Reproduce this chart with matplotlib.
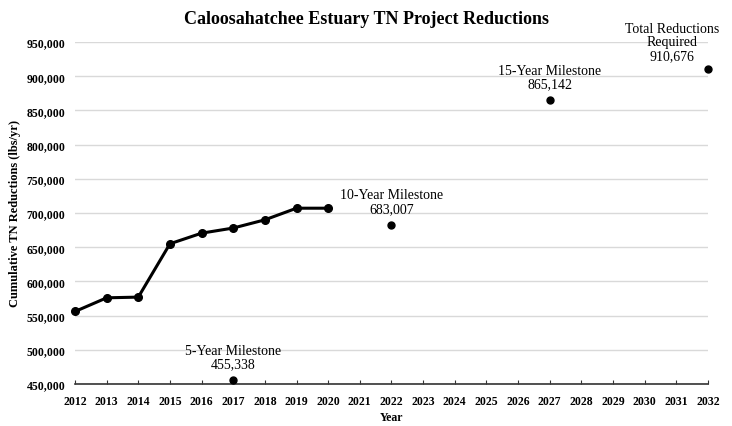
import numpy as np
import matplotlib.pyplot as plt
from matplotlib.ticker import FuncFormatter

years = [2012, 2013, 2014, 2015, 2016, 2017, 2018, 2019, 2020]
reductions = [556000, 576000, 577000, 655000, 670500, 678000, 690000, 707000, 707000]

milestone_years = [2017, 2022, 2027, 2032]
milestone_values = [455338, 683007, 865142, 910676]
milestone_labels = ['5-Year Milestone\n455,338', '10-Year Milestone\n683,007',
                    '15-Year Milestone\n865,142', 'Total Reductions\nRequired\n910,676']


def main():
    plt.rcParams['font.family'] = ['Liberation Serif', 'DejaVu Serif']
    fig = plt.figure(figsize=(7.32, 4.27), dpi=100)
    ax = fig.add_axes([0.1025, 0.0984, 0.8645, 0.8009])

    ax.plot(years, reductions, color='black', linewidth=2.2, marker='o',
            markersize=5.5, clip_on=False, zorder=3)
    ax.plot(milestone_years, milestone_values, linestyle='none', color='black',
            marker='o', markersize=5, clip_on=False, zorder=3)

    offsets = [(0, 7), (0, 7), (0, 7), (-26, 5)]
    for x, y, lab, off in zip(milestone_years, milestone_values, milestone_labels, offsets):
        ax.annotate(lab, (x, y), xytext=off, textcoords='offset points',
                    ha='center', va='bottom', fontsize=10, linespacing=1.05,
                    annotation_clip=False)

    ax.set_xlim(2012, 2032)
    ax.set_ylim(450000, 950000)
    ax.set_xticks(range(2012, 2033))
    ax.set_yticks(range(450000, 950001, 50000))
    ax.yaxis.set_major_formatter(FuncFormatter(lambda v, p: f'{int(v):,}'))
    ax.grid(axis='y', color='#d9d9d9', linewidth=1)
    ax.set_axisbelow(True)
    for s in ['top', 'right', 'left']:
        ax.spines[s].set_visible(False)
    ax.spines['bottom'].set_color('#333333')
    ax.spines['bottom'].set_linewidth(1.2)
    ax.tick_params(axis='y', length=0, pad=7, labelsize=8.5)
    ax.tick_params(axis='x', direction='in', length=3, color='#333333',
                   pad=8, labelsize=8.5)
    for t in ax.get_xticklabels() + ax.get_yticklabels():
        t.set_fontweight('bold')

    ax.set_xlabel('Year', fontsize=8.5, fontweight='bold', labelpad=3)
    ax.set_ylabel('Cumulative TN Reductions (lbs/yr)', fontsize=9,
                  fontweight='bold', labelpad=4)
    fig.text(0.5, 0.955, 'Caloosahatchee Estuary TN Project Reductions',
             ha='center', va='center', fontsize=13, fontweight='bold')

    fig.savefig('out.png', dpi=100)


if __name__ == '__main__':
    main()
